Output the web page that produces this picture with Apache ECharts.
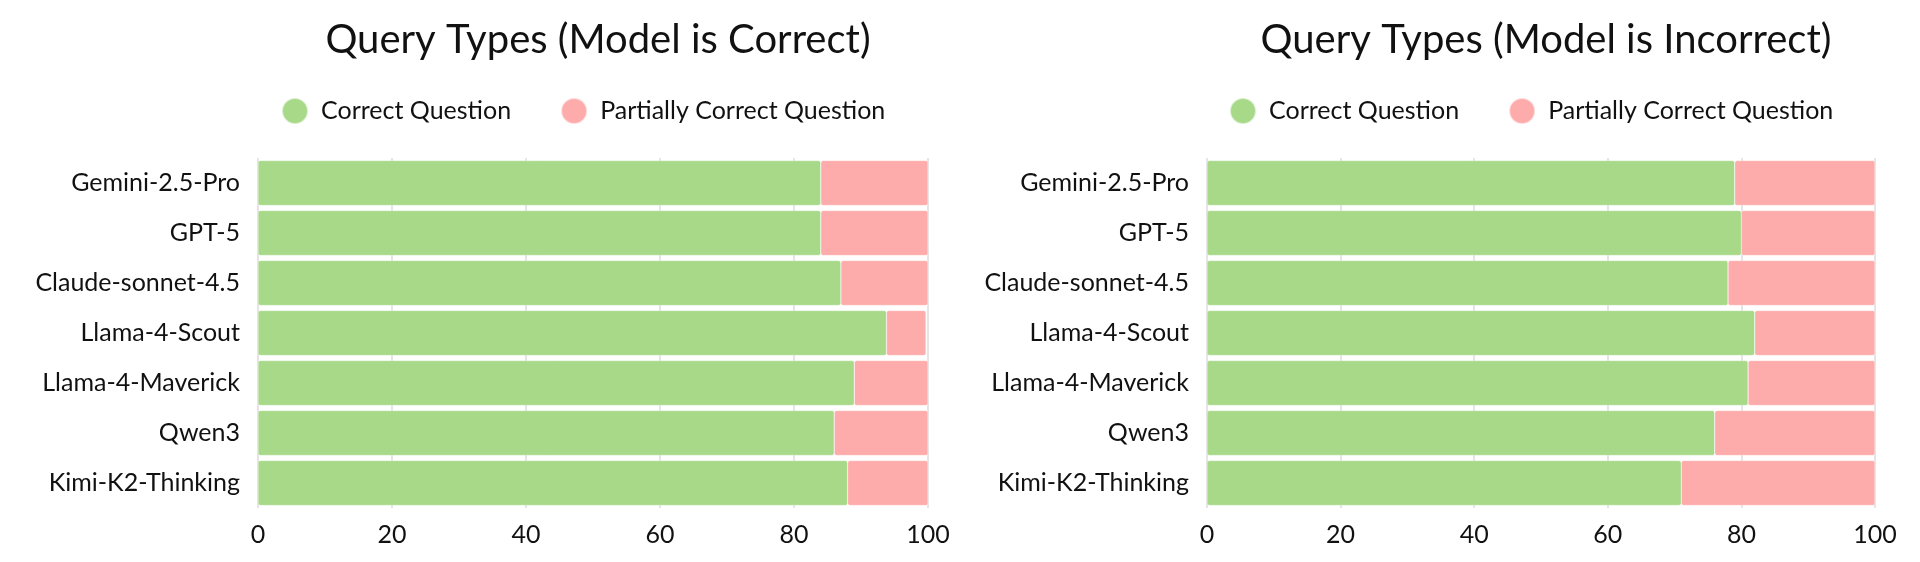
<!DOCTYPE html>
<html>
<head>
<meta charset="utf-8">
<script src="https://cdn.jsdelivr.net/npm/echarts@6/dist/echarts.min.js"></script>
<style>
  html, body { margin: 0; padding: 0; background: #fff; }
  #chart { width: 1920px; height: 562px; }
</style>
</head>
<body>
<div id="chart"></div>
<script>
const models = ["Gemini-2.5-Pro", "GPT-5", "Claude-sonnet-4.5", "Llama-4-Scout", "Llama-4-Maverick", "Qwen3", "Kimi-K2-Thinking"];
const seriesNames = ["Correct Question", "Partially Correct Question"];
const panelTitles = ["Query Types (Model is Correct)", "Query Types (Model is Incorrect)"];

// model is correct
const correctOk = [84, 84, 87, 93.8, 89, 86, 88];
const partialOk = [16, 16, 13, 5.9, 11, 14, 12];
// model is incorrect
const correctBad = [79, 80, 78, 82, 81, 76, 71];
const partialBad = [21, 20, 22, 18, 19, 24, 29];

const xTicks = [0, 20, 40, 60, 80, 100];

const GREEN = "#a7d989";
const PINK = "#feabab";
const FONT = "Lato, 'Open Sans', sans-serif";

const grids = [
  { left: 258, width: 670, top: 158, height: 350 },
  { left: 1207, width: 668, top: 158, height: 350 },
];
const legendLeft = [276, 1224];

const chart = echarts.init(document.getElementById("chart"));

const barStyle = (color) => ({
  color: color,
  borderColor: "rgba(255,255,255,0.6)",
  borderWidth: 0.5,
  borderRadius: 2,
});

function makeSeries(idx, correct, partial) {
  return [
    {
      name: seriesNames[0], type: "bar", stack: "s" + idx,
      xAxisIndex: idx, yAxisIndex: idx,
      barCategoryGap: "10%",
      itemStyle: barStyle(GREEN),
      data: correct,
    },
    {
      name: seriesNames[1], type: "bar", stack: "s" + idx,
      xAxisIndex: idx, yAxisIndex: idx,
      barCategoryGap: "10%",
      itemStyle: barStyle(PINK),
      data: partial,
    },
  ];
}

chart.setOption({
  animation: false,
  color: [GREEN, PINK],
  title: grids.map((g, i) => ({
    text: panelTitles[i],
    left: g.left + g.width / 2,
    textAlign: "center",
    top: 15,
    textStyle: { fontFamily: FONT, fontSize: 40, fontWeight: "normal", color: "#111" },
  })),
  legend: grids.map((g, i) => ({
    data: seriesNames,
    left: legendLeft[i],
    top: 92,
    orient: "horizontal",
    icon: "circle",
    itemWidth: 26,
    itemHeight: 26,
    itemGap: 49,
    textStyle: { fontFamily: FONT, fontSize: 25, color: "#111", padding: [0, 0, 0, 8] },
    selectedMode: false,
  })),
  grid: grids,
  xAxis: grids.map((g, i) => ({
    type: "value",
    gridIndex: i,
    min: 0,
    max: 100,
    interval: 20,
    axisLine: { show: false },
    axisTick: { show: false },
    axisLabel: {
      fontFamily: FONT, fontSize: 25, color: "#111", margin: 14,
      formatter: (v) => (xTicks.includes(v) ? String(v) : ""),
    },
    splitLine: { show: true, lineStyle: { color: "#dddddd", width: 1.5 } },
  })),
  yAxis: grids.map((g, i) => ({
    type: "category",
    gridIndex: i,
    data: models,
    inverse: true,
    axisLine: { show: false },
    axisTick: { show: false },
    axisLabel: { fontFamily: FONT, fontSize: 25, color: "#111", margin: 18 },
  })),
  series: [...makeSeries(0, correctOk, partialOk), ...makeSeries(1, correctBad, partialBad)],
});
</script>
</body>
</html>
